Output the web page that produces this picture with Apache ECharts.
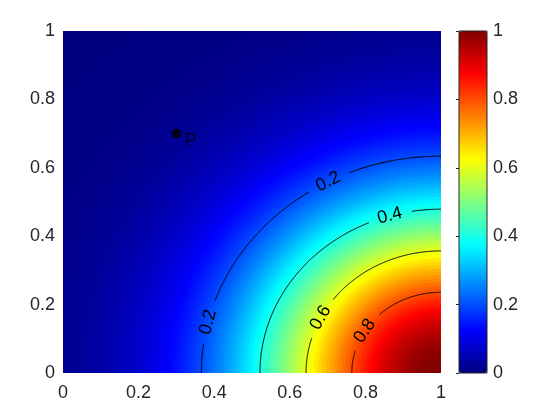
<!DOCTYPE html>
<html><head><meta charset="utf-8">
<script src="https://cdn.jsdelivr.net/npm/echarts@6/dist/echarts.min.js"></script>
<style>html,body{margin:0;padding:0;background:#fff}#c{width:560px;height:420px}</style>
</head><body><div id="c"></div>
<script>
// The field is radially symmetric about the peak corner (1, 0).
// Distance of each band from the peak, and the field value read for that band.
const profileDistance = [
0.00,0.01,0.02,0.03,0.04,0.05,0.06,0.07,0.08,0.09,
0.10,0.11,0.12,0.13,0.14,0.15,0.16,0.17,0.18,0.19,
0.20,0.21,0.22,0.23,0.24,0.25,0.26,0.27,0.28,0.29,
0.30,0.31,0.32,0.33,0.34,0.35,0.36,0.37,0.38,0.39,
0.40,0.41,0.42,0.43,0.44,0.45,0.46,0.47,0.48,0.49,
0.50,0.51,0.52,0.53,0.54,0.55,0.56,0.57,0.58,0.59,
0.60,0.61,0.62,0.63,0.64,0.65,0.66,0.67,0.68,0.69,
0.70,0.71,0.72,0.73,0.74,0.75,0.76,0.77,0.78,0.79,
0.80,0.81,0.82,0.83,0.84,0.85,0.86,0.87,0.88,0.89,
0.90,0.91,0.92,0.93,0.94,0.95,0.96,0.97,0.98,0.99,
1.00,1.01,1.02,1.03,1.04,1.05,1.06,1.07,1.08,1.09,
1.10,1.11,1.12,1.13,1.14,1.15,1.16,1.17,1.18,1.19,
1.20,1.21,1.22,1.23,1.24,1.25,1.26,1.27,1.28,1.29,
1.30,1.31,1.32,1.33,1.34,1.35,1.36,1.37,1.38,1.39,
1.40,1.41,1.42];
const profileValue = [
1.000,1.000,0.998,0.996,0.994,0.990,0.986,0.981,0.975,0.968,
0.961,0.953,0.944,0.935,0.925,0.914,0.903,0.891,0.878,0.866,
0.852,0.838,0.824,0.809,0.794,0.779,0.763,0.747,0.731,0.714,
0.698,0.681,0.664,0.647,0.630,0.613,0.595,0.578,0.561,0.544,
0.527,0.510,0.494,0.477,0.461,0.445,0.429,0.413,0.398,0.383,
0.368,0.353,0.339,0.325,0.311,0.298,0.285,0.273,0.260,0.248,
0.237,0.226,0.215,0.204,0.194,0.185,0.175,0.166,0.157,0.149,
0.141,0.133,0.126,0.119,0.112,0.105,0.099,0.093,0.088,0.082,
0.077,0.072,0.068,0.064,0.059,0.056,0.052,0.048,0.045,0.042,
0.039,0.036,0.034,0.031,0.029,0.027,0.025,0.023,0.021,0.020,
0.018,0.017,0.016,0.014,0.013,0.012,0.011,0.010,0.009,0.009,
0.008,0.007,0.007,0.006,0.006,0.005,0.005,0.004,0.004,0.003,
0.003,0.003,0.003,0.002,0.002,0.002,0.002,0.002,0.001,0.001,
0.001,0.001,0.001,0.001,0.001,0.001,0.001,0.001,0.001,0.000,
0.000,0.000,0.000];
const peakXY = [1, 0];
// Contour levels and their distance from the peak corner
const contourLevels = [0.2, 0.4, 0.6, 0.8];
const contourRadii = [0.634, 0.479, 0.357, 0.236];
// Marked point
const pointP = [0.3, 0.7];
const pointName = 'P';

const FONT = '"Liberation Sans", Arial, Helvetica, sans-serif';
const TXT = '#262626';
const JET = ['#000080','#0000ff','#0080ff','#00ffff','#80ff80','#ffff00','#ff8000','#ff0000','#800000'];
// label placement along each contour (degrees around the peak), styling only
const labelAngles = {'0.2': [118.1, 166.4], '0.4': [106.4], '0.6': [153.1], '0.8': [148.6]};
const GAP = 22;
const HALF_BAND = 0.005;

// farthest band first so nearer bands paint over it
const bandData = profileDistance.map((d, k) => [d, profileValue[k]]).reverse();

function arcPoint(api, r, deg) {
  return api.coord([peakXY[0] + r * Math.cos(deg * Math.PI / 180), peakXY[1] + r * Math.sin(deg * Math.PI / 180)]);
}

function renderBand(params, api) {
  const R = api.value(0) + HALF_BAND;
  const pts = [api.coord(peakXY)];
  for (let a = 90; a <= 180; a += 1) pts.push(arcPoint(api, R, a));
  return { type: 'polygon', shape: { points: pts }, style: { fill: api.visual('color'), stroke: null } };
}

function renderContour(params, api) {
  const level = api.value(0), r = api.value(1);
  const angs = labelAngles[level.toFixed(1)] || [];
  const labels = angs.map(a => {
    const c = arcPoint(api, r, a), p1 = arcPoint(api, r, a + 1), p2 = arcPoint(api, r, a - 1);
    return { c, rot: Math.atan2(-(p2[1] - p1[1]), p2[0] - p1[0]) };
  });
  const segs = []; let cur = [];
  for (let k = 0; k <= 360; k++) {
    const p = arcPoint(api, r, 90 + k * 0.25);
    const near = labels.some(l => Math.hypot(p[0] - l.c[0], p[1] - l.c[1]) < GAP);
    if (near) { if (cur.length > 1) segs.push(cur); cur = []; } else cur.push(p);
  }
  if (cur.length > 1) segs.push(cur);
  const children = segs.map(s => ({ type: 'polyline', shape: { points: s }, style: { stroke: '#000', lineWidth: 1, fill: 'none' } }));
  labels.forEach(l => children.push({
    type: 'text', x: l.c[0], y: l.c[1], rotation: l.rot,
    style: { text: String(level), fill: '#000', font: '18px ' + FONT, align: 'center', verticalAlign: 'middle' }
  }));
  return { type: 'group', children };
}

const chart = echarts.init(document.getElementById('c'), null, { renderer: 'canvas' });
const axisLabelStyle = { color: TXT, fontSize: 18, fontFamily: FONT };
chart.setOption({
  animation: false,
  grid: [
    { left: 63, top: 31, width: 378, height: 342 },
    { left: 459, top: 31, width: 28, height: 342, show: true, borderColor: TXT, borderWidth: 1, backgroundColor: 'transparent', z: 10 }
  ],
  xAxis: [
    { type: 'value', gridIndex: 0, min: 0, max: 1, interval: 0.2, position: 'bottom',
      axisLine: { show: false }, axisTick: { show: false }, splitLine: { show: false },
      axisLabel: Object.assign({ margin: 11, showMinLabel: true, showMaxLabel: true }, axisLabelStyle) },
    { type: 'value', gridIndex: 1, min: 0, max: 1, show: false }
  ],
  yAxis: [
    { type: 'value', gridIndex: 0, min: 0, max: 1, interval: 0.2, position: 'left',
      axisLine: { show: false }, axisTick: { show: false }, splitLine: { show: false },
      axisLabel: Object.assign({ margin: 8, showMinLabel: true, showMaxLabel: true }, axisLabelStyle) },
    { type: 'value', gridIndex: 1, min: 0, max: 1, interval: 0.2, position: 'right', z: 10,
      axisLine: { show: false }, splitLine: { show: false },
      axisTick: { show: true, inside: true, length: 3, lineStyle: { color: TXT } },
      axisLabel: Object.assign({ margin: 6, showMinLabel: true, showMaxLabel: true }, axisLabelStyle) }
  ],
  visualMap: {
    type: 'continuous', min: 0, max: 1, dimension: 1, seriesIndex: 0,
    left: 459, top: 31, itemWidth: 28, itemHeight: 342, padding: 0,
    calculable: false, realtime: false, hoverLink: false,
    inRange: { color: JET }
  },
  series: [
    { type: 'custom', xAxisIndex: 0, yAxisIndex: 0, renderItem: renderBand, clip: true, silent: true,
      data: bandData, encode: { x: -1, y: -1 } },
    { type: 'custom', xAxisIndex: 0, yAxisIndex: 0, renderItem: renderContour, clip: true, silent: true,
      data: contourLevels.map((lv, k) => [lv, contourRadii[k]]), encode: { x: -1, y: -1 } },
    { type: 'scatter', xAxisIndex: 0, yAxisIndex: 0, data: [pointP], symbolSize: 10, silent: true,
      itemStyle: { color: '#000' },
      label: { show: true, formatter: pointName, position: [13, 3], align: 'left', verticalAlign: 'top', color: '#000', fontSize: 18, fontFamily: FONT } }
  ]
});
</script></body></html>
